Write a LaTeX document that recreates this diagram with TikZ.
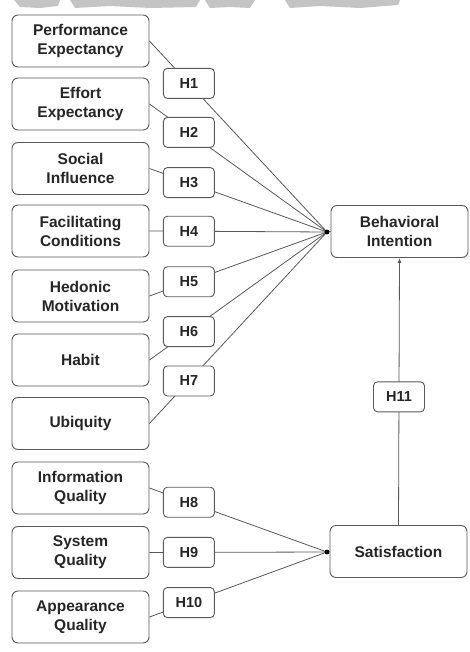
\documentclass[tikz,border=0pt]{standalone}
\usepackage{fontspec}
\setmainfont{Liberation Sans}
\usetikzlibrary{arrows.meta}
\definecolor{edge}{HTML}{5A5A5A}
\definecolor{ink}{HTML}{262626}
\definecolor{smudge}{HTML}{C4C4C4}
\tikzset{
  construct/.style={draw=edge, line width=0.9pt, rounded corners=6pt, fill=white,
    minimum width=137pt, minimum height=52pt, inner sep=0pt, align=center,
    text=ink, font=\fontsize{15.5}{19}\selectfont\bfseries},
  hbox/.style={draw=edge, line width=0.9pt, rounded corners=4pt, fill=white,
    minimum width=51pt, minimum height=30pt, inner sep=0pt,
    text=ink, font=\fontsize{14.5}{17}\selectfont\bfseries, pos=0.222},
  link/.style={draw=edge, line width=0.8pt},
}
\begin{document}
\begin{tikzpicture}[x=1pt, y=-1pt]
\useasboundingbox (0,0) rectangle (469,652);
\fill[white] (0,0) rectangle (469,652);

% faded band along the top edge
\fill[smudge] (14,0) -- (60,0) -- (58,6) -- (40,8) -- (20,7) -- cycle;
\fill[smudge] (70,0) -- (200,0) -- (196,7) -- (150,8) -- (110,6) -- (75,8) -- cycle;
\fill[smudge] (205,0) -- (255,0) -- (250,8) -- (230,7) -- (210,8) -- cycle;
\fill[smudge] (285,0) -- (400,0) -- (398,5) -- (360,8) -- (320,6) -- (290,8) -- cycle;

% predictors
\node[construct] (pe) at (80.5,41)    {Performance\\Expectancy};
\node[construct] (ee) at (80.5,104)   {Effort\\Expectancy};
\node[construct] (si) at (80.5,168.5) {Social\\Influence};
\node[construct] (fc) at (80.5,231)   {Facilitating\\Conditions};
\node[construct] (hm) at (80.5,296)   {Hedonic\\Motivation};
\node[construct] (hb) at (80.5,360)   {Habit};
\node[construct] (ub) at (80.5,423.5) {Ubiquity};
\node[construct] (iq) at (80.5,488)   {Information\\Quality};
\node[construct] (sq) at (80.5,552.5) {System\\Quality};
\node[construct] (aq) at (80.5,617)   {Appearance\\Quality};

% outcomes
\node[construct] (bi)  at (399.5,231.5) {Behavioral\\Intention};
\node[construct] (sat) at (398.5,551.5) {Satisfaction};

% convergence points
\coordinate (j1) at (327,232);
\coordinate (j2) at (327,552);

% paths with hypothesis labels
\draw[link] (pe.east) -- node[hbox] {H1} (j1);
\draw[link] (ee.east) -- node[hbox] {H2} (j1);
\draw[link] (si.east) -- node[hbox] {H3} (j1);
\draw[link] (fc.east) -- node[hbox] {H4} (j1);
\draw[link] (hm.east) -- node[hbox] {H5} (j1);
\draw[link] (hb.east) -- node[hbox] {H6} (j1);
\draw[link] (ub.east) -- node[hbox] {H7} (j1);
\draw[link] (iq.east) -- node[hbox] {H8} (j2);
\draw[link] (sq.east) -- node[hbox] {H9} (j2);
\draw[link] (aq.east) -- node[hbox] {H10} (j2);
\draw[link] (j1) -- (bi.west);
\draw[link] (j2) -- (sat.west);
\fill[black] (j1) circle (2.4pt);
\fill[black] (j2) circle (2.4pt);

\draw[link, -{Latex[length=5pt,width=4pt]}] (sat.north) -- node[hbox, pos=0.48] {H11} (bi.south);
\end{tikzpicture}
\end{document}
